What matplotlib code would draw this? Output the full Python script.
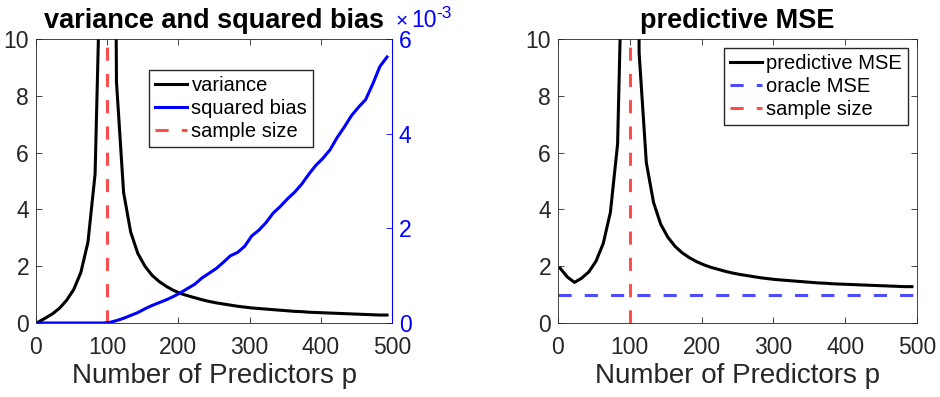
import matplotlib
matplotlib.use("Agg")
import matplotlib.pyplot as plt
import numpy as np

plt.rcParams['font.family'] = ['Liberation Sans', 'DejaVu Sans']

# number of predictors
p = np.arange(3, 500, 10)

variance = [0.03, 0.17, 0.32, 0.52, 0.80, 1.18, 1.78, 2.85, 5.25, 15.5,
            50.0, 8.5, 4.6, 3.2, 2.45, 2.0, 1.68, 1.46, 1.29, 1.15,
            1.04, 0.96, 0.89, 0.82, 0.76, 0.71, 0.67, 0.63, 0.59, 0.56,
            0.53, 0.51, 0.49, 0.47, 0.45, 0.43, 0.41, 0.40, 0.38, 0.37,
            0.36, 0.35, 0.34, 0.33, 0.32, 0.31, 0.30, 0.29, 0.28, 0.28]

# squared bias (x 1e-3)
sq_bias = [0, 0, 0, 0, 0, 0, 0, 0, 0, 0,
           0.01, 0.05, 0.10, 0.16, 0.22, 0.30, 0.37, 0.43, 0.49, 0.56,
           0.64, 0.73, 0.82, 0.95, 1.05, 1.15, 1.28, 1.42, 1.49, 1.62,
           1.84, 1.96, 2.12, 2.32, 2.46, 2.62, 2.76, 2.93, 3.14, 3.33,
           3.48, 3.66, 3.92, 4.14, 4.38, 4.56, 4.72, 5.05, 5.42, 5.62]

pred_mse = [1.93, 1.62, 1.43, 1.58, 1.80, 2.18, 2.80, 3.90, 6.3, 17.0,
            50.0, 9.5, 5.65, 4.25, 3.48, 3.02, 2.70, 2.47, 2.30, 2.16,
            2.05, 1.96, 1.89, 1.82, 1.76, 1.71, 1.67, 1.63, 1.59, 1.56,
            1.53, 1.51, 1.49, 1.47, 1.45, 1.43, 1.41, 1.40, 1.38, 1.37,
            1.36, 1.35, 1.34, 1.33, 1.32, 1.31, 1.30, 1.29, 1.28, 1.28]

oracle_mse = 1.0
n_samples = 100

tick_col = (0.15, 0.15, 0.15)
red = (1.0, 0.3, 0.3)
light_blue = (0.3, 0.3, 1.0)
dash = (4.3, 4.3)

fig = plt.figure(figsize=(9.4, 3.97), dpi=100)
ax1 = fig.add_axes([36/940, 74/397, 356/940, 284/397])
ax2 = fig.add_axes([558/940, 74/397, 359/940, 284/397])


def style(ax):
    ax.set_xlim(0, 500)
    ax.set_ylim(0, 10)
    ax.set_xticks([0, 100, 200, 300, 400, 500])
    ax.set_yticks([0, 2, 4, 6, 8, 10])
    ax.tick_params(direction='in', length=4, width=0.6, labelsize=16.5,
                   colors=tick_col, top=True, right=True)
    ax.tick_params(axis='x', pad=9)
    ax.tick_params(axis='y', pad=5)
    for s in ax.spines.values():
        s.set_color(tick_col)
        s.set_linewidth(0.6)
    ax.set_xlabel('Number of Predictors p', fontsize=20, color=tick_col, labelpad=3)


leg_kw = dict(fontsize=14.5, frameon=True, fancybox=False, edgecolor=tick_col,
              framealpha=1, handlelength=1.6, handletextpad=0.2, borderpad=0.3,
              labelspacing=0.2, borderaxespad=0)

# left: variance and squared bias
style(ax1)
ax1.tick_params(right=False)
l1, = ax1.plot(p, variance, color='k', lw=2.2, label='variance')
l3, = ax1.plot([n_samples, n_samples], [0, 10], color=red, lw=2.2,
               dashes=dash, label='sample size')
ax1.set_title('variance and squared bias', fontsize=19.5, fontweight='bold', pad=8)

ax1b = ax1.twinx()
ax1b.set_position(ax1.get_position())
l2, = ax1b.plot(p, sq_bias, color='b', lw=2.2, label='squared bias')
ax1b.set_ylim(0, 6)
ax1b.set_yticks([0, 2, 4, 6])
ax1b.tick_params(direction='in', length=4, width=0.6, labelsize=16.5, colors='b', pad=5)
ax1b.spines['right'].set_color('b')
for s in ['left', 'top', 'bottom']:
    ax1b.spines[s].set_visible(False)

# axis multiplier label  x10^-3
fig.text(396/940, 1 - 27/397, '\u00d7', color='b', fontsize=15, ha='left', va='baseline')
fig.text(411/940, 1 - 27/397, '10', color='b', fontsize=16.5, ha='left', va='baseline')
fig.text(436/940, 1 - 18/397, '-3', color='b', fontsize=12.5, ha='left', va='baseline')

ax1b.legend([l1, l2, l3], ['variance', 'squared bias', 'sample size'],
            loc='upper left', bbox_to_anchor=(0.318, 0.89), **leg_kw)

# right: predictive MSE
style(ax2)
ax2.plot(p, pred_mse, color='k', lw=2.2, label='predictive MSE')
ax2.axhline(oracle_mse, color=light_blue, lw=2.2, dashes=dash, label='oracle MSE')
ax2.plot([n_samples, n_samples], [0, 10], color=red, lw=2.2, dashes=dash,
         label='sample size')
ax2.set_title('predictive MSE', fontsize=19.5, fontweight='bold', pad=8)
ax2.legend(loc='upper right', bbox_to_anchor=(0.975, 0.97), **leg_kw)

fig.savefig('out.png', dpi=100)
